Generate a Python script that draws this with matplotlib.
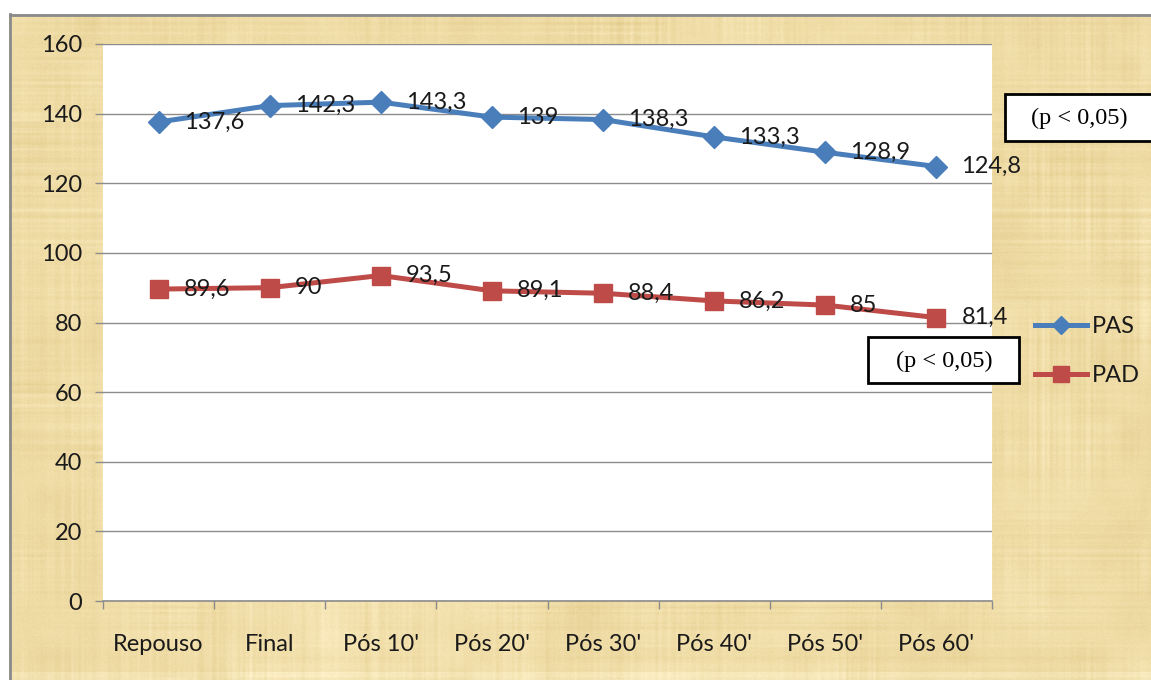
import numpy as np
import matplotlib
matplotlib.use("Agg")
import matplotlib.pyplot as plt
from matplotlib.lines import Line2D
from matplotlib.patches import Rectangle

# ---- data ----
categories = ["Repouso", "Final", "Pós 10'", "Pós 20'", "Pós 30'", "Pós 40'", "Pós 50'", "Pós 60'"]
pas = [137.6, 142.3, 143.3, 139, 138.3, 133.3, 128.9, 124.8]
pad = [89.6, 90, 93.5, 89.1, 88.4, 86.2, 85, 81.4]
y_ticks = [0, 20, 40, 60, 80, 100, 120, 140, 160]
note_text = "(p < 0,05)"

W, H = 1151, 680
DPI = 100
LABEL_FONT = "Lato"
FS = 17
BLUE = "#4A7EBB"
RED = "#BE4B48"
GRID = "#8c8c8c"
TEXT = "#1a1a1a"


def smooth_noise(rng, h, w, ch, cw):
    """Bilinearly upsampled coarse noise field."""
    coarse = rng.normal(size=(ch + 1, cw + 1))
    ys = np.linspace(0, ch, h)
    xs = np.linspace(0, cw, w)
    y0 = np.floor(ys).astype(int).clip(0, ch - 1)
    x0 = np.floor(xs).astype(int).clip(0, cw - 1)
    fy = (ys - y0)[:, None]
    fx = (xs - x0)[None, :]
    a = coarse[y0][:, x0]
    b = coarse[y0][:, x0 + 1]
    c = coarse[y0 + 1][:, x0]
    d = coarse[y0 + 1][:, x0 + 1]
    return (a * (1 - fx) + b * fx) * (1 - fy) + (c * (1 - fx) + d * fx) * fy


def blur1d(v, k):
    pad_v = np.pad(v, k, mode="edge")
    return np.convolve(pad_v, np.ones(k) / k, mode="same")[k:-k]


def papyrus(h, w, seed=3):
    rng = np.random.default_rng(seed)
    blot = smooth_noise(rng, h, w, 8, 14) * 0.5 + smooth_noise(rng, h, w, 30, 50) * 0.35
    cols = blur1d(rng.normal(size=w), 3)
    rows = blur1d(rng.normal(size=h), 3)
    m1 = 0.55 + 0.45 * smooth_noise(rng, h, w, 12, 20)
    m2 = 0.55 + 0.45 * smooth_noise(rng, h, w, 12, 20)
    fiber = cols[None, :] * m1 + rows[:, None] * m2
    grain = rng.normal(size=(h, w)) * 0.25
    lum = blot * 0.9 + fiber * 0.8 + grain
    base = np.array([239, 220, 166]) / 255.0
    tint = np.array([0.018, 0.023, 0.038])
    img = base[None, None, :] + lum[:, :, None] * tint[None, None, :]
    # slightly paler strip along the bottom edge
    img[h - 8:, :, :] += np.array([0.02, 0.03, 0.05])
    return np.clip(img, 0, 1)


fig = plt.figure(figsize=(W / DPI, H / DPI), dpi=DPI)
fig.patch.set_facecolor("white")

# textured backdrop, placed pixel for pixel beneath everything else
img = papyrus(H, W)
img[:14, :, :] = 1.0
img[:, :9, :] = 1.0
fig.figimage(img, xo=0, yo=0, origin="upper", zorder=-10)
fig.add_artist(Line2D([9.5 / W, 9.5 / W], [0, 1 - 14 / H], color="#8a8a8a", lw=2,
                      transform=fig.transFigure, zorder=-5))
fig.add_artist(Line2D([9.5 / W, 1], [1 - 14.5 / H, 1 - 14.5 / H], color="#8a8a8a", lw=2,
                      transform=fig.transFigure, zorder=-5))

# main plot area
left, right, top, bottom = 103, 992, 44, 601
ax = fig.add_axes([left / W, 1 - bottom / H, (right - left) / W, (bottom - top) / H])
ax.set_facecolor("white")
x = np.arange(len(categories))

ax.plot(x, pas, color=BLUE, lw=3.6, marker="D", markersize=11, label="PAS", zorder=3)
ax.plot(x, pad, color=RED, lw=3.6, marker="s", markersize=13, label="PAD", zorder=3)


def fmt(v):
    return f"{v:g}".replace(".", ",")


for series in (pas, pad):
    for xi, v in zip(x, series):
        ax.annotate(fmt(v), (xi, v), xytext=(18, 0), textcoords="offset points",
                    ha="left", va="center", fontsize=FS, family=LABEL_FONT,
                    color=TEXT, zorder=4, annotation_clip=False)

ax.set_xlim(-0.5, len(categories) - 0.5)
ax.set_ylim(0, 160)
ax.set_yticks(y_ticks)
ax.yaxis.grid(True, color=GRID, lw=1)
ax.set_axisbelow(True)

for s in ("top", "right", "left"):
    ax.spines[s].set_visible(False)
ax.spines["bottom"].set_color(GRID)
ax.spines["bottom"].set_linewidth(1.2)

ax.set_xticks(x)
ax.set_xticklabels(categories, family=LABEL_FONT, fontsize=FS, color=TEXT)
ax.set_xticks(np.arange(-0.5, len(categories)), minor=True)
ax.tick_params(axis="x", which="major", length=0, pad=24)
ax.tick_params(axis="x", which="minor", length=6, color=GRID, width=1)
ax.tick_params(axis="y", length=6, color=GRID, width=1, pad=9)
for lbl in ax.get_yticklabels():
    lbl.set_family(LABEL_FONT)
    lbl.set_fontsize(FS)
    lbl.set_color(TEXT)

# legend on the right margin
handles = [
    Line2D([], [], color=BLUE, lw=3.6, marker="D", markersize=9),
    Line2D([], [], color=RED, lw=3.6, marker="s", markersize=12),
]
fig.legend(handles, ["PAS", "PAD"], loc="center left",
           bbox_to_anchor=(1014 / W, 1 - 351 / H), frameon=False,
           prop={"family": LABEL_FONT, "size": FS}, handlelength=2.2,
           handletextpad=0.2, labelspacing=1.2, labelcolor=TEXT)

# significance notes
overlay = fig.add_axes([0, 0, 1, 1])
overlay.set_xlim(0, W)
overlay.set_ylim(H, 0)
overlay.axis("off")
overlay.patch.set_alpha(0)


def note(x0, y0, x1, y1, cx):
    rect = Rectangle((x0, y0), x1 - x0, y1 - y0, facecolor="white",
                     edgecolor="black", lw=2, zorder=10, clip_on=False)
    overlay.add_patch(rect)
    overlay.text(cx, (y0 + y1) / 2 + 1, note_text, ha="center", va="center",
                 family="Liberation Serif", fontsize=17.5, zorder=11)


note(1005, 94, 1165, 141, 1079)
note(868, 337, 1019, 383, 944)

fig.savefig("out.png", dpi=DPI)
